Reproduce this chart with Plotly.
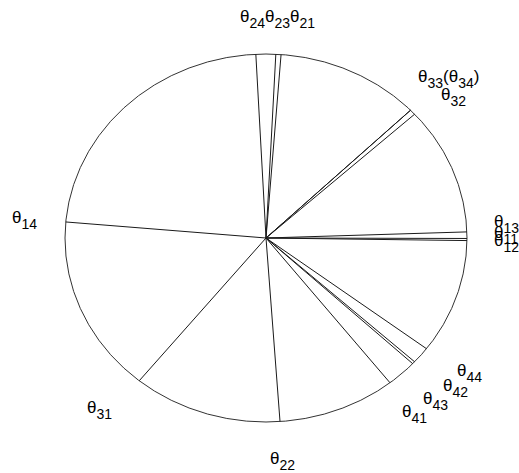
import numpy as np
import plotly.graph_objects as go

# Radial boundary lines (angle in degrees, counter-clockwise from 3 o'clock)
line_labels = ["θ13", "θ11", "θ12", "θ33", "θ34", "θ32", "θ21", "θ23", "θ24",
               "θ14", "θ31", "θ22", "θ41", "θ43", "θ42", "θ44"]
line_angles = [1.9, -0.15, -0.8, 44.0, 44.0, 42.3, 85.7, 87.2, 92.9,
               175.0, 230.9, 274.0, 308.1, 316.9, 317.7, 323.0]


def th(n):
    return ("θ<sub><span style='font-size:14px;baseline-shift:-2px'>%s</span></sub>" % n)


label_texts = [
    th("24") + th("23") + th("21"),
    th("33") + "(" + th("34") + ")",
    th("32"),
    th("13"), th("11"), th("12"),
    th("14"), th("31"), th("22"),
    th("44"), th("42"), th("43"), th("41"),
]
# label centre positions in window pixels
label_px = [(277, 19), (448.5, 79), (453.5, 97),
            (492, 224), (492, 235), (492, 243),
            (24.5, 220), (99, 410), (282.5, 461),
            (469.5, 373), (455, 388), (435, 401), (414.5, 413.5)]
label_anchor = ["center", "center", "center", "left", "left", "left",
                "center", "center", "center", "center", "center", "center", "center"]

W, H = 519, 473
CX, CY, RX, RY = 266, 238, 201, 184

fig = go.Figure()
for lab, ang in zip(line_labels, line_angles):
    a = np.deg2rad(ang)
    fig.add_trace(go.Scatter(x=[0, np.cos(a)], y=[0, np.sin(a)], mode="lines",
                             line=dict(color="#1a1a1a", width=1), name=lab,
                             hoverinfo="name", showlegend=False))

fig.add_shape(type="circle", xref="x", yref="y", x0=-1, x1=1, y0=-1, y1=1,
              line=dict(color="#333333", width=1), fillcolor="rgba(0,0,0,0)",
              layer="below")

for txt, (px, py), anc in zip(label_texts, label_px, label_anchor):
    fig.add_annotation(x=(px - CX) / RX, y=(CY - py) / RY, text=txt,
                       showarrow=False, xanchor=anc, yanchor="middle",
                       font=dict(family="Liberation Sans, Arial, sans-serif", size=17,
                                 color="black"))

fig.update_xaxes(range=[-CX / RX, (W - CX) / RX], visible=False, fixedrange=True)
fig.update_yaxes(range=[-(H - CY) / RY, CY / RY], visible=False, fixedrange=True)
fig.update_layout(width=W, height=H, margin=dict(l=0, r=0, t=0, b=0),
                  plot_bgcolor="white", paper_bgcolor="white", showlegend=False)

fig.write_html("out.html", config={"displayModeBar": False},
               post_script="document.body.style.margin='0';document.body.style.overflow='hidden';")
